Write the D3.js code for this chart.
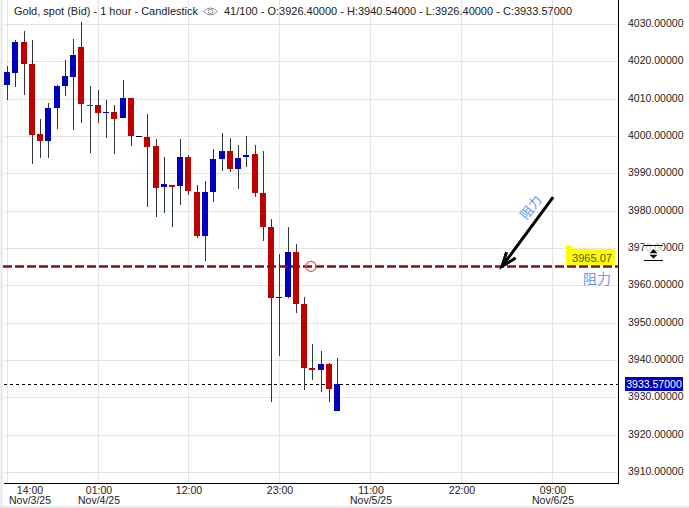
<!DOCTYPE html>
<html>
<head>
<meta charset="utf-8">
<script src="https://cdn.jsdelivr.net/npm/d3@7"></script>
<style>
  html, body { margin: 0; padding: 0; background: #fff; overflow: hidden; }
  text { font-family: "Liberation Sans", Arial, sans-serif; }
</style>
</head>
<body>
<div id="chart"></div>
<script>
// one hourly candle per entry
var opens = [4013.66, 4016.88, 4025.18, 4019.29, 4000.54, 3998.66, 4007.50, 4013.39, 4015.80, 4023.84,
  4008.30, 4008.30, 4006.16, 4006.43, 4004.82, 4010.18, 4000.00, 3999.73, 3997.32, 3986.34,
  3986.88, 3986.61, 3994.38, 3985.00, 3973.21, 3985.00, 3993.84, 3996.00, 3991.16, 3994.38,
  3995.18, 3984.73, 3975.63, 3956.61, 3956.88, 3968.93, 3955.00, 3937.86, 3937.32, 3938.93, 3926.40];
var highs = [4018.75, 4025.72, 4028.13, 4025.72, 4004.55, 4008.84, 4013.66, 4020.36, 4025.98, 4030.54,
  4013.39, 4012.32, 4009.64, 4008.30, 4015.00, 4010.18, 4000.00, 4005.89, 3999.20, 3994.38,
  3986.88, 3999.20, 3994.91, 3986.88, 3987.95, 3996.52, 4000.80, 3999.47, 3997.59, 4000.00,
  3997.59, 3996.00, 3977.77, 3968.40, 3975.63, 3971.07, 3956.88, 3944.29, 3942.41, 3939.20, 3940.54];
var lows = [4009.73, 4013.13, 4010.98, 3992.50, 3994.11, 3994.11, 4001.88, 4010.71, 4001.61, 4003.48,
  3995.45, 4003.48, 3999.47, 3995.18, 4004.82, 3997.32, 3999.73, 3980.98, 3978.30, 3979.38,
  3975.63, 3981.52, 3984.20, 3972.68, 3966.52, 3982.32, 3990.63, 3990.36, 3985.80, 3991.70,
  3983.66, 3971.88, 3928.75, 3941.07, 3956.61, 3952.59, 3931.97, 3934.65, 3931.43, 3928.75, 3926.40];
var closes = [4017.14, 4025.18, 4019.29, 4000.27, 3998.66, 4007.50, 4013.39, 4016.07, 4021.70, 4008.57,
  4008.04, 4006.16, 4006.43, 4004.55, 4010.18, 4000.00, 4000.00, 3997.05, 3986.07, 3987.14,
  3986.34, 3994.38, 3985.27, 3973.21, 3985.00, 3993.84, 3995.98, 3991.16, 3994.11, 3994.91,
  3984.73, 3975.63, 3956.61, 3956.88, 3968.93, 3955.00, 3937.86, 3937.32, 3938.93, 3932.23, 3933.57];

var priceTicks = [3910, 3920, 3930, 3940, 3950, 3960, 3970, 3980, 3990, 4000, 4010, 4020, 4030];
var timeTicks = [0, 11, 22, 33, 44, 55, 66];
var timeLabels = ["14:00", "01:00", "12:00", "23:00", "11:00", "22:00", "09:00"];
var dateLabels = ["Nov/3/25", "Nov/4/25", "", "", "Nov/5/25", "", "Nov/6/25"];

var lastPrice = 3933.57;
var resistance = 3965.07;
var title = "Gold, spot (Bid) - 1 hour - Candlestick";
var info = "41/100 - O:3926.40000 - H:3940.54000 - L:3926.40000 - C:3933.57000";

var width = 689, height = 508;
var plot = {left: 4, right: 618, bottom: 483};

var x = d3.scaleLinear().domain([0, 66]).range([7, 551.5]);
var y = d3.scaleLinear().domain([3910, 4030]).range([472, 24]);
var px = i => Math.round(x(i));
var py = v => Math.round(y(v));

var svg = d3.select("#chart").append("svg")
  .attr("width", width)
  .attr("height", height)
  .style("display", "block");

// page edges
svg.append("rect").attr("x", 0).attr("y", 0).attr("width", 3).attr("height", 506).attr("fill", "#eeeeee");
svg.append("rect").attr("x", 0).attr("y", 506).attr("width", width).attr("height", 2).attr("fill", "#e8e8e8");

// grid
svg.append("g").selectAll("rect").data(priceTicks).enter().append("rect")
  .attr("x", plot.left).attr("width", plot.right - plot.left)
  .attr("y", d => py(d)).attr("height", 1).attr("fill", "#e4e4e4");
svg.append("g").selectAll("rect").data(timeTicks).enter().append("rect")
  .attr("x", d => px(d)).attr("width", 1)
  .attr("y", 0).attr("height", plot.bottom).attr("fill", "#e4e4e4");

// axes
var yAxis = svg.append("g")
  .attr("transform", "translate(" + plot.right + ",-1)")
  .call(d3.axisRight(y).tickValues(priceTicks).tickSize(0).tickPadding(10).tickFormat(d3.format(".5f")));
yAxis.select(".domain").remove();
yAxis.selectAll("text")
  .style("font-family", '"Liberation Sans", Arial, sans-serif')
  .style("font-size", "10.5px")
  .attr("fill", "#222");

var xAxis = svg.append("g")
  .attr("transform", "translate(0," + plot.bottom + ")")
  .call(d3.axisBottom(x).tickValues(timeTicks).tickSize(0).tickPadding(4)
    .tickFormat((d, i) => timeLabels[i]));
xAxis.select(".domain").remove();
xAxis.selectAll("text")
  .style("font-family", '"Liberation Sans", Arial, sans-serif')
  .style("font-size", "10.5px")
  .attr("fill", "#222");
// first label gets pushed inside the plot
xAxis.selectAll(".tick").attr("transform", d => "translate(" + (d === 0 ? 30 : px(d) + 1) + ",0)");
xAxis.selectAll(".tick").append("text")
  .attr("y", 14).attr("dy", "0.71em")
  .style("font-family", '"Liberation Sans", Arial, sans-serif')
  .style("font-size", "10.5px")
  .attr("fill", "#222")
  .text((d, i) => dateLabels[i]);

svg.append("rect").attr("x", plot.right).attr("y", 0).attr("width", 1).attr("height", plot.bottom + 1).attr("fill", "#000");
svg.append("rect").attr("x", plot.left).attr("y", plot.bottom).attr("width", plot.right - plot.left).attr("height", 1).attr("fill", "#000");

// last price line
svg.append("line")
  .attr("x1", plot.left).attr("x2", plot.right)
  .attr("y1", py(lastPrice) + 0.5).attr("y2", py(lastPrice) + 0.5)
  .attr("stroke", "#000").attr("stroke-dasharray", "3,3");

// candles
var candles = d3.range(opens.length);
var color = i => closes[i] > opens[i] ? "#0000bd" : closes[i] < opens[i] ? "#bd0000" : "#000";

svg.append("g").selectAll("rect").data(candles).enter().append("rect")
  .attr("x", i => px(i)).attr("width", 1)
  .attr("y", i => py(highs[i]))
  .attr("height", i => py(lows[i]) - py(highs[i]))
  .attr("fill", "#2b3a3c");
svg.append("g").selectAll("rect").data(candles).enter().append("rect")
  .attr("x", i => px(i) - 3).attr("width", 6)
  .attr("y", i => py(Math.max(opens[i], closes[i])))
  .attr("height", i => Math.max(1, py(Math.min(opens[i], closes[i])) - py(Math.max(opens[i], closes[i]))))
  .attr("fill", color);

// resistance line and its marker
svg.append("line")
  .attr("x1", 3).attr("x2", plot.right)
  .attr("y1", y(resistance)).attr("y2", y(resistance))
  .attr("stroke", "#7a1616").attr("stroke-width", 2.5).attr("stroke-dasharray", "9,3");
svg.append("circle")
  .attr("cx", x(36.85)).attr("cy", y(resistance)).attr("r", 5)
  .attr("fill", "none").attr("stroke", "#f05050").attr("stroke-width", 1.2);

// arrow, given in chart coordinates
var tip = [x(60), y(resistance)];
var tail = [x(66.2), y(3983.6)];
var angle = Math.atan2(tail[1] - tip[1], tail[0] - tip[0]);
var barb = (a, len) => [tip[0] + Math.cos(angle + a) * len, tip[1] + Math.sin(angle + a) * len];
var line = d3.line();
svg.append("path").attr("d", line([tip, tail]))
  .attr("stroke", "#000").attr("stroke-width", 3).attr("fill", "none");
svg.append("path").attr("d", line([barb(-0.33, 15), tip, barb(0.38, 16)]))
  .attr("stroke", "#000").attr("stroke-width", 3).attr("fill", "none");

var noteFont = '"Noto Sans CJK SC", sans-serif';
svg.append("text")
  .attr("transform", "translate(" + x(63.5) + "," + y(3980.9) + ") rotate(-52)")
  .attr("text-anchor", "middle").attr("dy", "0.36em")
  .style("font-family", noteFont).style("font-size", "13px")
  .attr("fill", "#6a97f5").text("阻力");
svg.append("text")
  .attr("x", 597).attr("y", y(3961.7))
  .attr("text-anchor", "middle").attr("dy", "0.36em")
  .style("font-family", noteFont).style("font-size", "14px")
  .attr("fill", "#6a97f5").text("阻力");

// highlighted price note
svg.append("path")
  .attr("d", "M566,245 L570,245 L574,248 L578,249 L615,249 L615,265 L566,265 Z")
  .attr("fill", "#ffff00");
svg.append("text")
  .attr("x", 592).attr("y", y(resistance) - 8)
  .attr("text-anchor", "middle").attr("dy", "0.36em")
  .style("font-size", "11px")
  .attr("fill", "#4f5a00").text("3965.07");

// drag handle over the axis
svg.append("rect").attr("x", 644).attr("y", 240).attr("width", 19).attr("height", 11).attr("fill", "#fff").attr("opacity", 0.7);
svg.append("rect").attr("x", 644).attr("y", 245).attr("width", 19).attr("height", 1).attr("fill", "#000");
svg.append("rect").attr("x", 644).attr("y", 260).attr("width", 19).attr("height", 1).attr("fill", "#000");
svg.append("path").attr("d", "M653.5,249 L657.5,253.3 L649.5,253.3 Z").attr("fill", "#000");
svg.append("path").attr("d", "M653.5,258.5 L657.5,254.7 L649.5,254.7 Z").attr("fill", "#000");

// last price tag
svg.append("rect").attr("x", 625).attr("y", py(lastPrice) - 7).attr("width", 58).attr("height", 14).attr("fill", "#0000bd");
svg.append("text")
  .attr("x", 654).attr("y", py(lastPrice))
  .attr("text-anchor", "middle").attr("dy", "0.36em")
  .style("font-size", "10.5px")
  .attr("fill", "#fff").text(d3.format(".5f")(lastPrice));

// header
svg.append("text").attr("x", 14).attr("y", 15).style("font-size", "11px").attr("fill", "#222").text(title);
svg.append("text").attr("x", 224).attr("y", 15).style("font-size", "11px").attr("fill", "#222").text(info);
var eye = svg.append("g").attr("transform", "translate(210.5,11.5)").attr("fill", "none").attr("stroke", "#777").attr("stroke-width", 0.8);
eye.append("path").attr("d", "M-7,0 Q0,-7 7,0 Q0,7 -7,0 Z");
eye.append("circle").attr("r", 2.4);
</script>
</body>
</html>
